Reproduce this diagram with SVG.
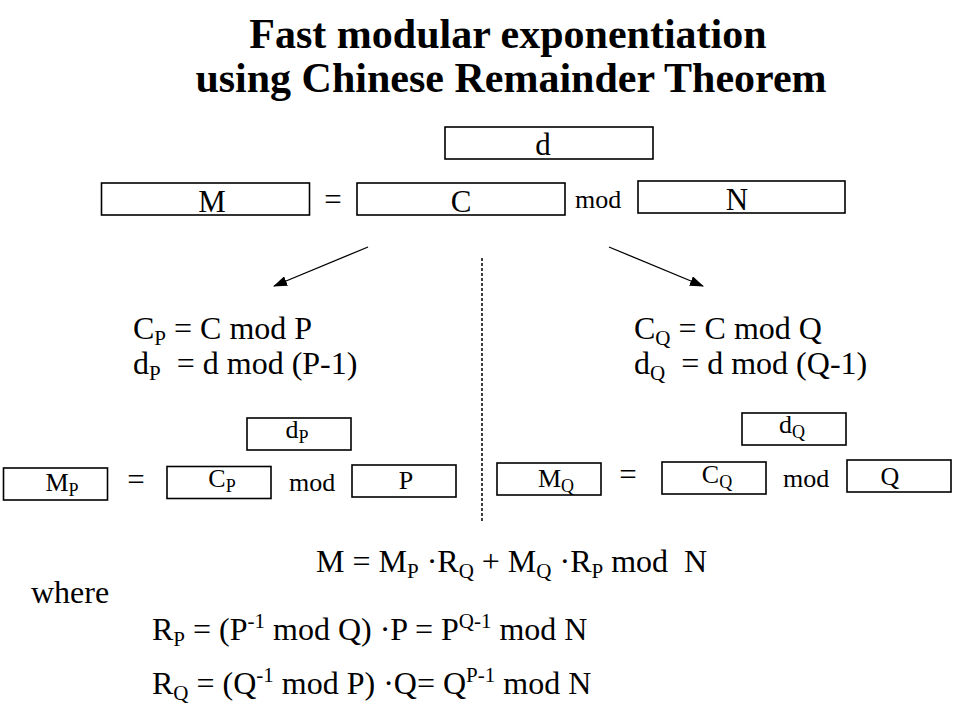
<svg xmlns="http://www.w3.org/2000/svg" width="960" height="720" viewBox="0 0 960 720">
<defs>
<style>
text{font-family:"Liberation Serif","Times New Roman",serif;fill:#000}
.title{font-size:42px;font-weight:bold;text-anchor:middle}
.box{fill:#fff;stroke:#000;stroke-width:1.6}
.lbl{font-size:31px;text-anchor:middle}
.slbl{font-size:26px;text-anchor:middle}
.f{font-size:32px}
.mod{font-size:26px}
.sub{font-size:21px}
.ssub{font-size:18px}
.conn{stroke:#000;stroke-width:1.3;fill:none}
.dash{stroke:#000;stroke-width:1.5;stroke-dasharray:3 2;fill:none}
</style>
<marker id="arrow" markerUnits="userSpaceOnUse" markerWidth="14" markerHeight="10" refX="13" refY="5" orient="auto">
<path d="M0,0 L14,5 L0,10 Z" fill="#000"/>
</marker>
</defs>
<rect width="960" height="720" fill="#fff"/>

<g id="title">
<text class="title" x="508" y="48">Fast modular exponentiation</text>
<text class="title" x="511" y="92">using Chinese Remainder Theorem</text>
</g>

<g id="connectors">
<line class="conn" x1="368" y1="247" x2="274" y2="286" marker-end="url(#arrow)"/>
<line class="conn" x1="609" y1="247" x2="703" y2="286" marker-end="url(#arrow)"/>
<line class="dash" x1="482" y1="258" x2="482" y2="521"/>
</g>

<g id="box-d"><rect class="box" x="445" y="127" width="208" height="32"/><text class="lbl" x="543" y="155">d</text></g>
<g id="box-M"><rect class="box" x="101.5" y="183" width="208" height="32"/><text class="lbl" x="212" y="212">M</text></g>
<text class="lbl" x="333" y="210">=</text>
<g id="box-C"><rect class="box" x="357" y="183" width="208" height="32"/><text class="lbl" x="461" y="212">C</text></g>
<text class="mod" x="575" y="208">mod</text>
<g id="box-N"><rect class="box" x="638" y="181" width="207" height="32"/><text class="lbl" x="737" y="210">N</text></g>

<g id="formulas-P">
<text class="f" x="133" y="339" xml:space="preserve">C<tspan class="sub" dy="6">P</tspan><tspan dy="-6"> = C mod P</tspan></text>
<text class="f" x="133" y="374" xml:space="preserve">d<tspan class="sub" dy="6">P</tspan><tspan dy="-6">  = d mod (P-1)</tspan></text>
</g>
<g id="formulas-Q">
<text class="f" x="634" y="339" xml:space="preserve">C<tspan class="sub" dy="6">Q</tspan><tspan dy="-6"> = C mod Q</tspan></text>
<text class="f" x="634" y="374" xml:space="preserve">d<tspan class="sub" dy="6">Q</tspan><tspan dy="-6">  = d mod (Q-1)</tspan></text>
</g>

<g id="box-dP"><rect class="box" x="247" y="418" width="104" height="32"/><text class="slbl" x="297" y="438">d<tspan class="ssub" dy="5">P</tspan></text></g>
<g id="box-MP"><rect class="box" x="3.5" y="468" width="104" height="32"/><text class="slbl" x="62" y="491">M<tspan class="ssub" dy="5">P</tspan></text></g>
<text class="lbl" x="136" y="490">=</text>
<g id="box-CP"><rect class="box" x="167" y="466.5" width="104" height="32"/><text class="slbl" x="222" y="487">C<tspan class="ssub" dy="5">P</tspan></text></g>
<text class="mod" x="289" y="491">mod</text>
<g id="box-P"><rect class="box" x="352" y="465" width="104" height="32"/><text class="slbl" x="406" y="489">P</text></g>

<g id="box-dQ"><rect class="box" x="742" y="413" width="104" height="32"/><text class="slbl" x="792" y="433">d<tspan class="ssub" dy="5">Q</tspan></text></g>
<g id="box-MQ"><rect class="box" x="497" y="463" width="104" height="32"/><text class="slbl" x="556" y="487">M<tspan class="ssub" dy="5">Q</tspan></text></g>
<text class="lbl" x="628" y="485">=</text>
<g id="box-CQ"><rect class="box" x="662" y="462" width="104" height="32"/><text class="slbl" x="717" y="483">C<tspan class="ssub" dy="5">Q</tspan></text></g>
<text class="mod" x="783" y="487">mod</text>
<g id="box-Q"><rect class="box" x="847" y="460" width="104" height="32"/><text class="slbl" x="890" y="485">Q</text></g>

<g id="recombination">
<text class="f" x="316" y="572" xml:space="preserve">M = M<tspan class="sub" dy="6">P</tspan><tspan dy="-6"> ·R</tspan><tspan class="sub" dy="6">Q</tspan><tspan dy="-6"> + M</tspan><tspan class="sub" dy="6">Q</tspan><tspan dy="-6"> ·R</tspan><tspan class="sub" dy="6">P</tspan><tspan dy="-6"> mod  N</tspan></text>
<text class="f" x="31" y="603">where</text>
<text class="f" x="152" y="640" xml:space="preserve">R<tspan class="sub" dy="6">P</tspan><tspan dy="-6"> = (P</tspan><tspan class="sub" dy="-12">-1</tspan><tspan dy="12"> mod Q) ·P = P</tspan><tspan class="sub" dy="-12">Q-1</tspan><tspan dy="12"> mod N</tspan></text>
<text class="f" x="152" y="694" xml:space="preserve">R<tspan class="sub" dy="6">Q</tspan><tspan dy="-6"> = (Q</tspan><tspan class="sub" dy="-12">-1</tspan><tspan dy="12"> mod P) ·Q= Q</tspan><tspan class="sub" dy="-12">P-1</tspan><tspan dy="12"> mod N</tspan></text>
</g>
</svg>
